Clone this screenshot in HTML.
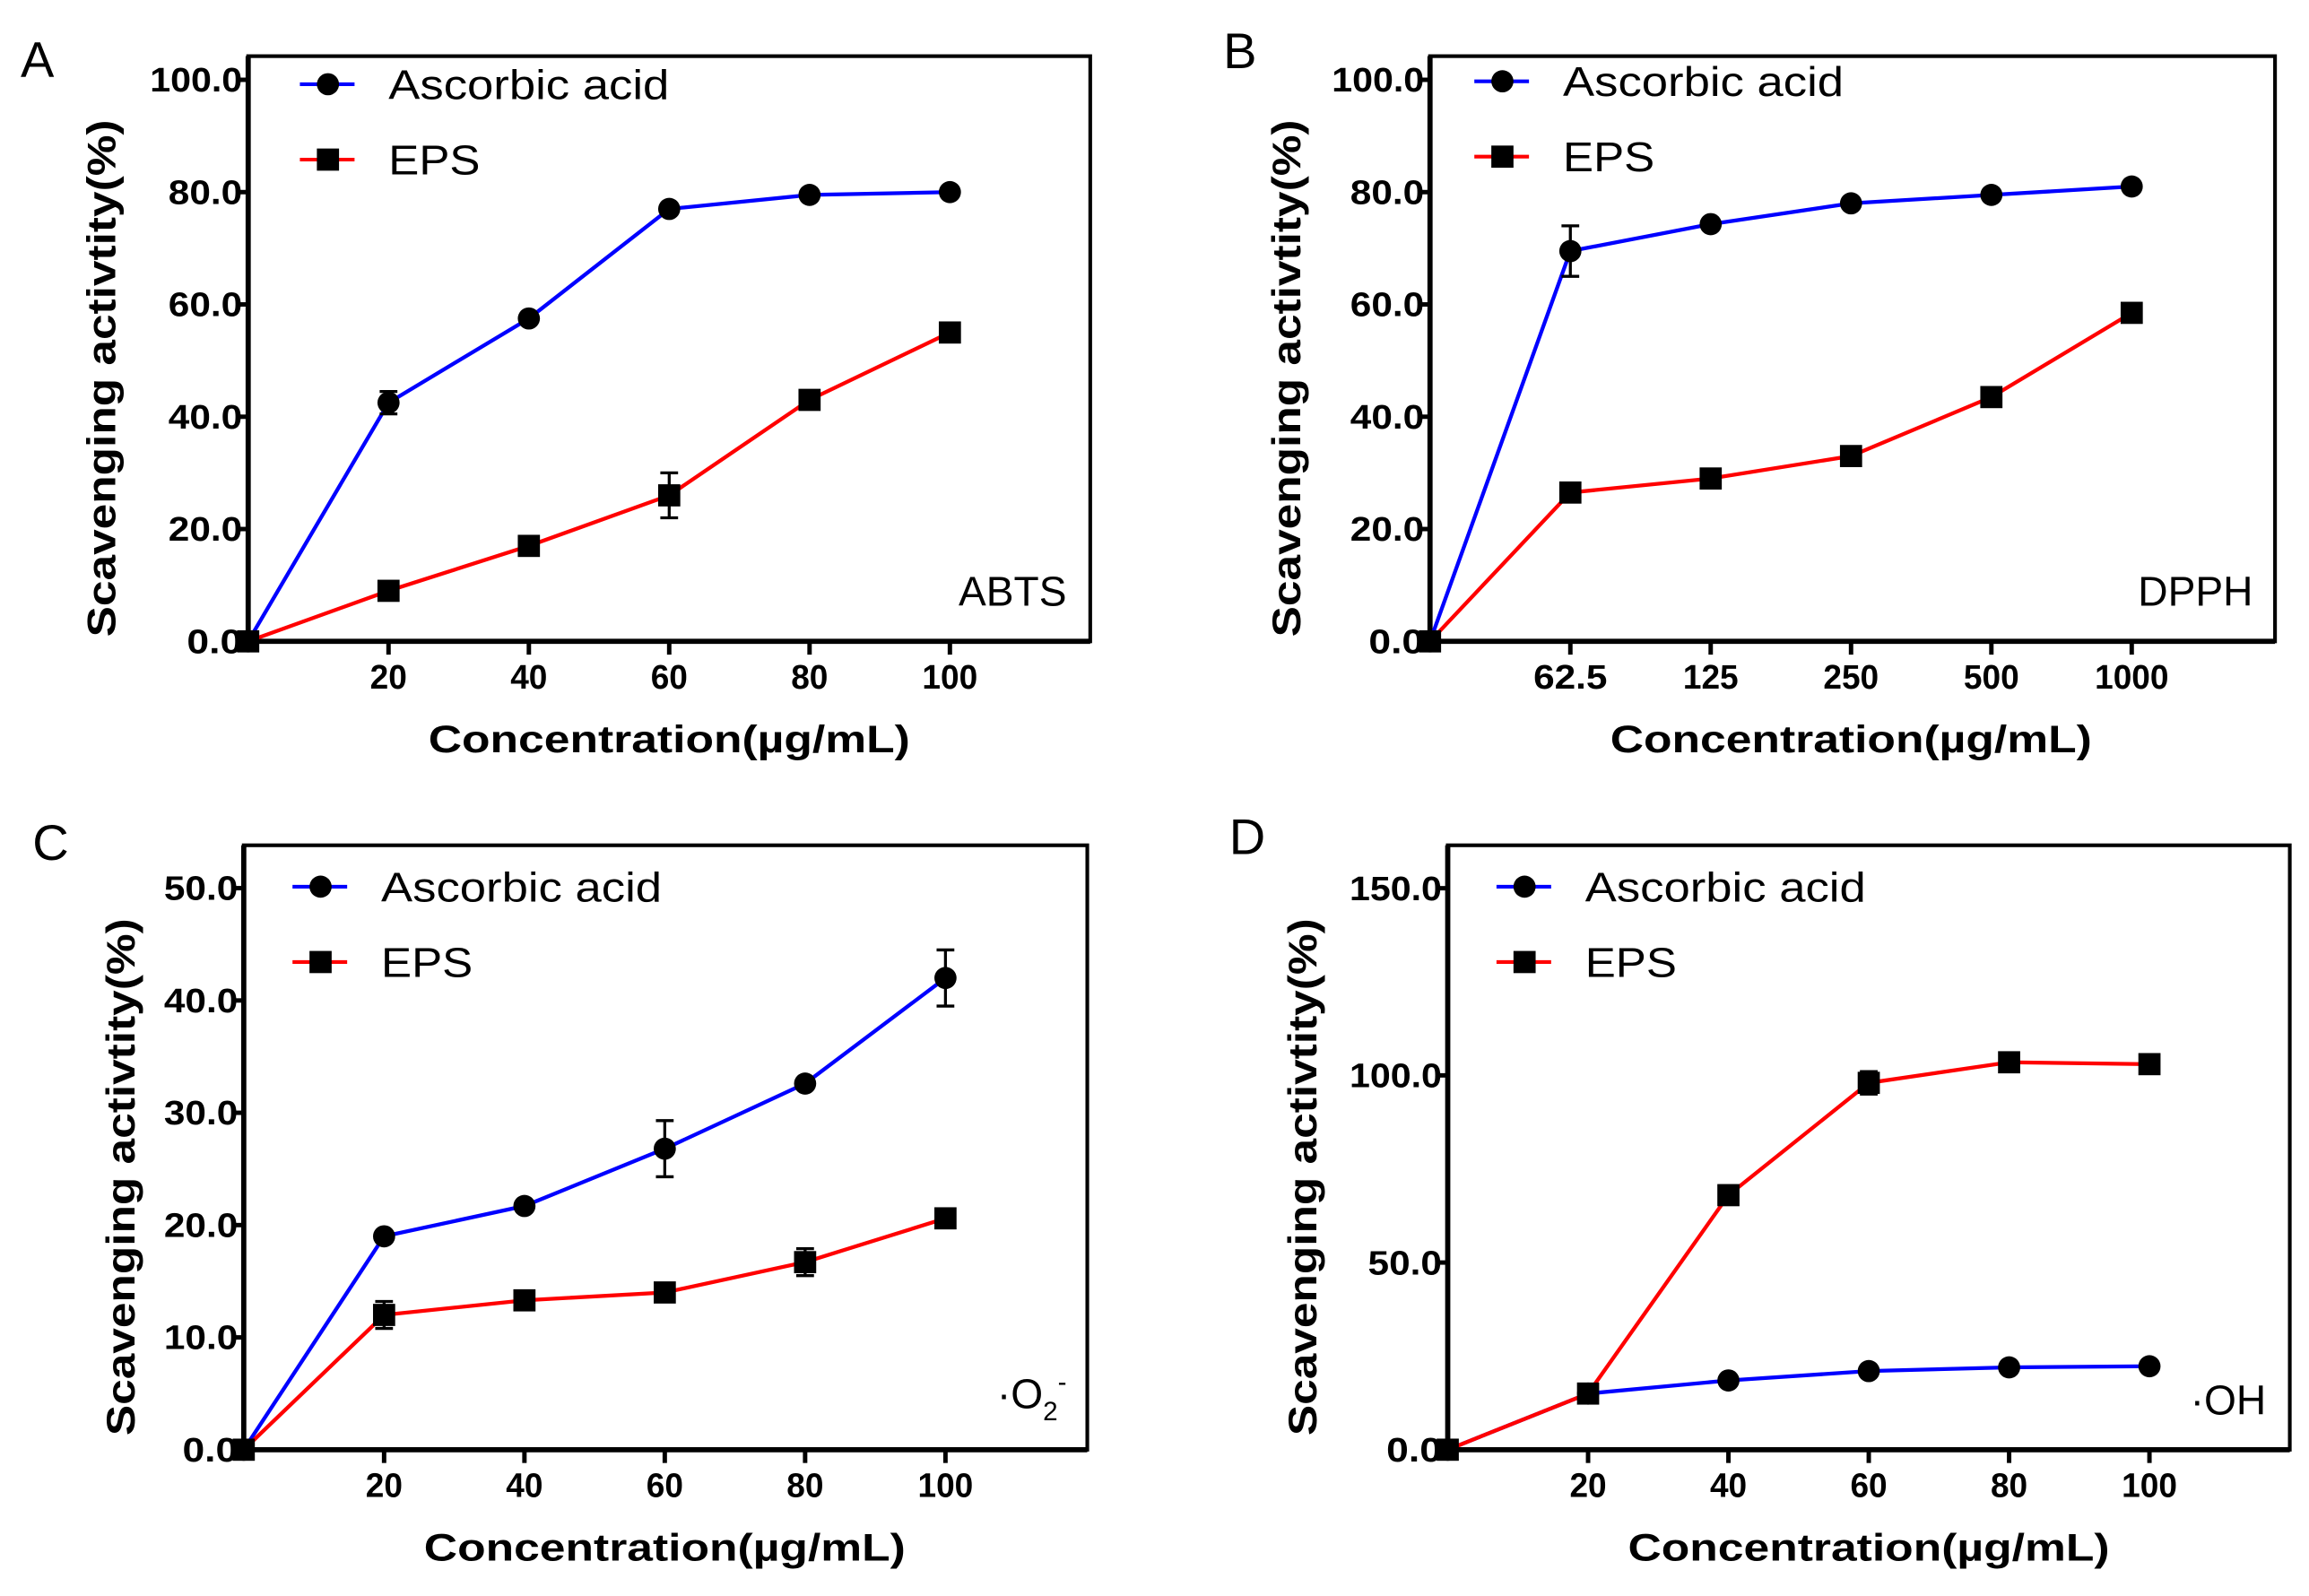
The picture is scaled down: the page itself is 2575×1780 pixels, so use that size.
<!DOCTYPE html>
<html><head><meta charset="utf-8"><style>
html,body{margin:0;padding:0;background:#fff;}
svg{display:block;}
text{font-family:"Liberation Sans",sans-serif;}
</style></head><body>
<svg id="fig" width="2575" height="1780" viewBox="0 0 1563 1080" preserveAspectRatio="none" xmlns="http://www.w3.org/2000/svg"></svg>
<script>
// ---- Panel A (ABTS) ----
const catsA = [0, 20, 40, 60, 80, 100];
const ascA = [0, 42.5, 57.5, 77, 79.5, 80];
const ascErrA = [0, 2, 0.8, 0.8, 0.8, 0.8];
const epsA = [0, 9, 17, 26, 43, 55];
const epsErrA = [0, 0.8, 1, 4, 1, 1];
const yTicksA = ["0.0", "20.0", "40.0", "60.0", "80.0", "100.0"];
const yValsA = [0, 20, 40, 60, 80, 100];
const xLabelsA = ["20", "40", "60", "80", "100"];
// ---- Panel B (DPPH) ----
const catsB = ["0", "62.5", "125", "250", "500", "1000"];
const ascB = [0, 69.5, 74.3, 78, 79.5, 81];
const ascErrB = [0, 4.5, 0.8, 0.8, 0.8, 0.8];
const epsB = [0, 26.5, 29, 33, 43.5, 58.5];
const epsErrB = [0, 1, 1, 1, 1, 1];
const yTicksB = ["0.0", "20.0", "40.0", "60.0", "80.0", "100.0"];
const yValsB = [0, 20, 40, 60, 80, 100];
// ---- Panel C (O2-) ----
const catsC = [0, 20, 40, 60, 80, 100];
const ascC = [0, 19, 21.7, 26.8, 32.6, 42];
const ascErrC = [0, 0.4, 0.4, 2.5, 0.4, 2.5];
const epsC = [0, 12, 13.3, 14, 16.7, 20.6];
const epsErrC = [0, 1.2, 0.5, 0.5, 1.2, 0.5];
const yTicksC = ["0.0", "10.0", "20.0", "30.0", "40.0", "50.0"];
const yValsC = [0, 10, 20, 30, 40, 50];
// ---- Panel D (OH) ----
const catsD = [0, 20, 40, 60, 80, 100];
const ascD = [0, 15, 18.5, 21, 22, 22.3];
const ascErrD = [0, 0.5, 0.5, 0.5, 0.5, 0.5];
const epsD = [0, 15, 68, 98, 103.5, 103];
const epsErrD = [0, 1.5, 2.5, 3, 1, 1];
const yTicksD = ["0.0", "50.0", "100.0", "150.0"];
const yValsD = [0, 50, 100, 150];

const NS = "http://www.w3.org/2000/svg";
const svg = document.getElementById("fig");
function mk(tag, attrs, parent, txt) {
  const e = document.createElementNS(NS, tag);
  for (const k in attrs) e.setAttribute(k, attrs[k]);
  if (txt !== undefined) e.textContent = txt;
  (parent || svg).appendChild(e);
  return e;
}

function panel(cfg) {
  const g = mk("g", {});
  
  
  const L = cfg.left, T = cfg.top, R = cfg.right, B = cfg.bottom;
  const xScale = i => L + i * cfg.xStep;
  const yScale = v => B - (v - 0) * cfg.yPer;
  const let_ = mk("text", {x: cfg.letterX, y: cfg.letterY, "font-size": 34, fill: "#000"}, g, cfg.letter);
  
  
  const fr = mk("rect", {x: L, y: T, width: R - L, height: B - T, fill: "none", stroke: "#000", "stroke-width": 2.5}, g);
  
  
  mk("line", {x1: L, y1: T, x2: L, y2: B, stroke: "#000", "stroke-width": 3.5}, g);
  mk("line", {x1: L, y1: B, x2: R, y2: B, stroke: "#000", "stroke-width": 3.5}, g);
  cfg.yVals.forEach((v, i) => {
    const y = yScale(v);
    mk("line", {x1: L - 8, y1: y, x2: L, y2: y, stroke: "#000", "stroke-width": 3}, g);
    const t = mk("text", {x: L - 4, y: y + 8, "font-size": 23, "font-weight": "bold", "text-anchor": "end", fill: "#000", textLength: cfg.yTicks[i].length * 12.5, lengthAdjust: "spacingAndGlyphs"}, g, cfg.yTicks[i]);
    
    
  });
  cfg.xLabels.forEach((lab, i) => {
    const x = xScale(i + 1);
    mk("line", {x1: x, y1: B, x2: x, y2: B + 9, stroke: "#000", "stroke-width": 3}, g);
    const t = mk("text", {x: x, y: B + 32, "font-size": 23, "font-weight": "bold", "text-anchor": "middle", fill: "#000", textLength: lab.length * 12.5, lengthAdjust: "spacingAndGlyphs"}, g, lab);
    
    
  });
  const xt = mk("text", {x: (L + (L + cfg.xStep * 6)) / 2, y: B + 75, "font-size": 26, "font-weight": "bold", "text-anchor": "middle", fill: "#000", textLength: 326, lengthAdjust: "spacingAndGlyphs"}, g, "Concentration(\u00b5g/mL)");
  
  
  const yc = (T + B) / 2 + 20;
  const yt = mk("text", {x: 0, y: 0, "font-size": 27, "font-weight": "bold", "text-anchor": "middle", fill: "#000", transform: "translate(" + cfg.yTitleX + "," + yc + ") rotate(-90)", textLength: 350, lengthAdjust: "spacingAndGlyphs"}, g, "Scavenging activtity(%)");
  
  
  function series(vals, errs, color, shape, name) {
    const sg = mk("g", {}, g);
    
    
    const pts = vals.map((v, i) => xScale(i) + "," + yScale(v)).join(" ");
    mk("polyline", {points: pts, fill: "none", stroke: color, "stroke-width": 2.6}, sg);
    vals.forEach((v, i) => {
      const x = xScale(i), y = yScale(v);
      const e = errs[i] * cfg.yPer;
      if (e > 3) {
        mk("line", {x1: x, y1: y - e, x2: x, y2: y + e, stroke: "#000", "stroke-width": 2}, sg);
        mk("line", {x1: x - 6, y1: y - e, x2: x + 6, y2: y - e, stroke: "#000", "stroke-width": 2}, sg);
        mk("line", {x1: x - 6, y1: y + e, x2: x + 6, y2: y + e, stroke: "#000", "stroke-width": 2}, sg);
      }
      let m;
      if (shape === "circle") m = mk("circle", {cx: x, cy: y, r: 7.5, fill: "#000"}, sg);
      else m = mk("rect", {x: x - 7.5, y: y - 7.5, width: 15, height: 15, fill: "#000"}, sg);
      
      
    });
  }
  series(cfg.asc, cfg.ascErr, "#0000ff", "circle", "ascorbic-acid");
  series(cfg.eps, cfg.epsErr, "#ff0000", "square", "eps");
  const lx = L + cfg.legDx, ly1 = T + cfg.legDy, ly2 = ly1 + 51;
  const lg = mk("g", {}, g);
  
  
  mk("line", {x1: lx, y1: ly1, x2: lx + 37, y2: ly1, stroke: "#0000ff", "stroke-width": 2.5}, lg);
  mk("circle", {cx: lx + 19, cy: ly1, r: 7.5, fill: "#000"}, lg);
  const t1 = mk("text", {x: lx + 60, y: ly1 + 10, "font-size": 28, fill: "#000", textLength: 190, lengthAdjust: "spacingAndGlyphs"}, lg, "Ascorbic acid");
  
  
  mk("line", {x1: lx, y1: ly2, x2: lx + 37, y2: ly2, stroke: "#ff0000", "stroke-width": 2.5}, lg);
  mk("rect", {x: lx + 11.5, y: ly2 - 7.5, width: 15, height: 15, fill: "#000"}, lg);
  const t2 = mk("text", {x: lx + 60, y: ly2 + 10, "font-size": 28, fill: "#000", textLength: 62, lengthAdjust: "spacingAndGlyphs"}, lg, "EPS");
  
  
  const an = mk("text", {x: cfg.annX, y: cfg.annY, "font-size": 28, "text-anchor": "end", fill: "#000"}, g);
  
  
  if (cfg.ann === "O2") {
    an.textContent = "\u00b7O";
    mk("tspan", {"font-size": 18, dy: 8}, an, "2");
    mk("tspan", {"font-size": 18, dy: -20}, an, "-");
  } else an.textContent = cfg.ann;
}

panel({id: "a-abts", letter: "A", letterX: 14, letterY: 52, left: 168, top: 38, right: 738, bottom: 434,
  xStep: 95, yPer: 3.8, yVals: yValsA, yTicks: yTicksA, xLabels: xLabelsA,
  asc: ascA, ascErr: ascErrA, eps: epsA, epsErr: epsErrA, legDx: 35, legDy: 19, yTitleX: 78,
  ann: "ABTS", annX: 722, annY: 410});
panel({id: "b-dpph", letter: "B", letterX: 828, letterY: 46, left: 968, top: 38, right: 1540, bottom: 434,
  xStep: 95, yPer: 3.8, yVals: yValsB, yTicks: yTicksB, xLabels: catsB.slice(1),
  asc: ascB, ascErr: ascErrB, eps: epsB, epsErr: epsErrB, legDx: 30, legDy: 17, yTitleX: 880,
  ann: "DPPH", annX: 1525, annY: 410});
panel({id: "c-superoxide", letter: "C", letterX: 22, letterY: 582, left: 165, top: 572, right: 736, bottom: 981,
  xStep: 95, yPer: 7.6, yVals: yValsC, yTicks: yTicksC, xLabels: catsC.slice(1).map(String),
  asc: ascC, ascErr: ascErrC, eps: epsC, epsErr: epsErrC, legDx: 33, legDy: 28, yTitleX: 91,
  ann: "O2", annX: 722, annY: 953});
panel({id: "d-hydroxyl", letter: "D", letterX: 832, letterY: 578, left: 980, top: 572, right: 1550, bottom: 981,
  xStep: 95, yPer: 2.533, yVals: yValsD, yTicks: yTicksD, xLabels: catsD.slice(1).map(String),
  asc: ascD, ascErr: ascErrD, eps: epsD, epsErr: epsErrD, legDx: 33, legDy: 28, yTitleX: 891,
  ann: "\u00b7OH", annX: 1534, annY: 957});
</script>
</body></html>
